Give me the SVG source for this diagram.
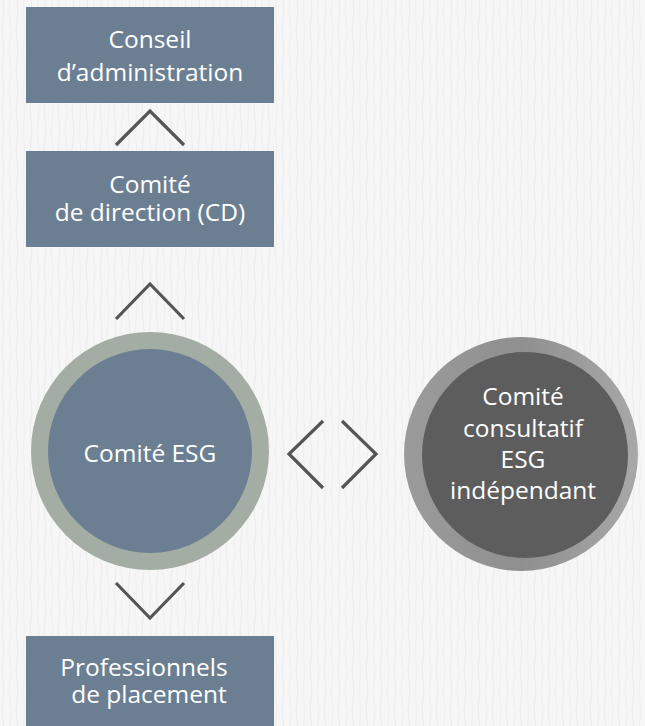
<svg xmlns="http://www.w3.org/2000/svg" width="645" height="726" viewBox="0 0 645 726">
<defs>
<pattern id="tex" width="14" height="40" patternUnits="userSpaceOnUse">
<rect width="14" height="40" fill="#f6f6f7"/>
<path d="M3 0 Q5 10 3 20 Q1 30 3 40" fill="none" stroke="#ececee" stroke-width="1"/>
<path d="M10 0 Q8 12 10 22 Q12 32 10 40" fill="none" stroke="#efeff1" stroke-width="1"/>
</pattern>
<linearGradient id="ringGrey" x1="0" y1="0" x2="1" y2="0">
<stop offset="0" stop-color="#9b9b9b"/>
<stop offset="0.5" stop-color="#8f8f8f"/>
<stop offset="1" stop-color="#a8a8a8"/>
</linearGradient>
<style>
.box{fill:#6c7f92}
.lbl{font-family:"Open Sans","Noto Sans","DejaVu Sans",sans-serif;fill:#ffffff;text-anchor:middle;font-size:24.5px}
.chev{fill:none;stroke:#555555;stroke-width:3.2;stroke-linecap:butt;stroke-linejoin:miter}
</style>
</defs>
<rect width="645" height="726" fill="url(#tex)"/>

<g id="conseil">
<rect class="box" x="26" y="7" width="248" height="96"/>
<text class="lbl" x="150" y="48">Conseil</text>
<text class="lbl" x="150" y="81">d’administration</text>
</g>

<g id="comite-direction">
<rect class="box" x="26" y="151" width="248" height="96"/>
<text class="lbl" x="150" y="193">Comité</text>
<text class="lbl" x="150" y="221">de direction (CD)</text>
</g>

<g id="comite-esg">
<circle cx="150" cy="451" r="119" fill="#a4ada4"/>
<circle cx="150" cy="451" r="102" fill="#6c7f92"/>
<text class="lbl" x="150" y="462" font-size="24">Comité ESG</text>
</g>

<g id="comite-consultatif">
<circle cx="521" cy="454" r="117" fill="url(#ringGrey)"/>
<circle cx="525" cy="455" r="103" fill="#5d5d5d"/>
<text class="lbl" x="523" y="405">Comité</text>
<text class="lbl" x="523" y="437">consultatif</text>
<text class="lbl" x="523" y="468">ESG</text>
<text class="lbl" x="523" y="499">indépendant</text>
</g>

<g id="professionnels">
<rect class="box" x="26" y="636" width="248" height="90"/>
<text class="lbl" x="144" y="676" font-size="24">Professionnels</text>
<text class="lbl" x="149" y="703" font-size="24">de placement</text>
</g>

<g id="connectors">
<polyline class="chev" points="116,145 150,111 184,145"/>
<polyline class="chev" points="116,319 150,284 184,319"/>
<polyline class="chev" points="116,583 150,618 184,583"/>
<polyline class="chev" points="323,421 289,454 323,488"/>
<polyline class="chev" points="342,421 376,454 342,488"/>
</g>
</svg>
